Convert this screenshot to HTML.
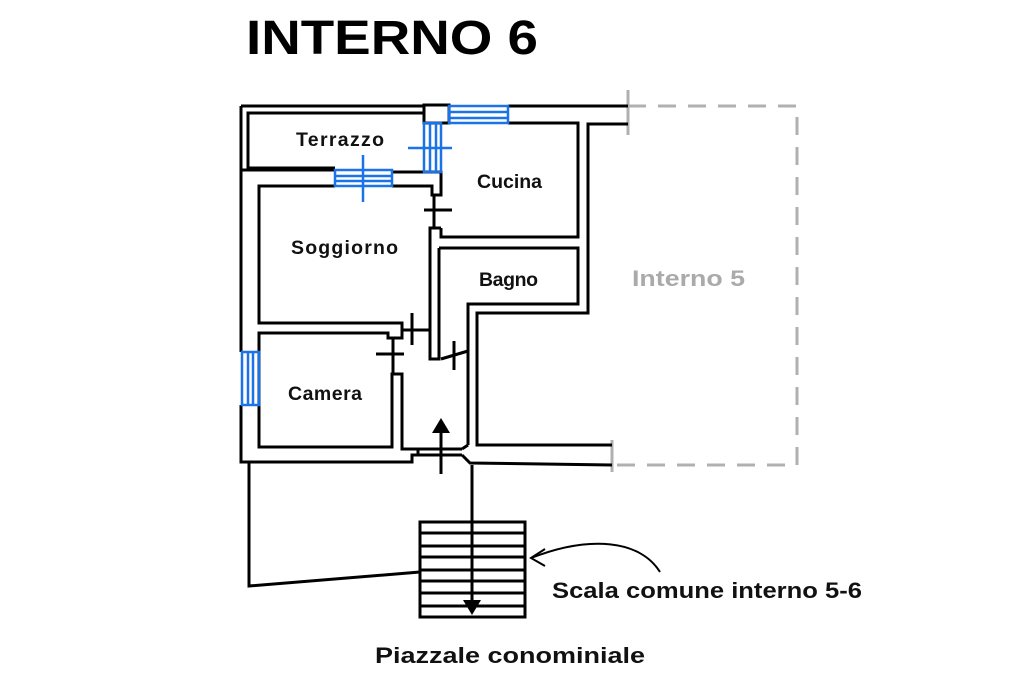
<!DOCTYPE html>
<html><head><meta charset="utf-8"><style>
html,body{margin:0;padding:0;background:#fff;}
svg{display:block;}
text{font-family:"Liberation Sans",sans-serif;}
</style></head><body>
<svg width="1024" height="682" viewBox="0 0 1024 682" xmlns="http://www.w3.org/2000/svg">
<text x="246" y="54" font-size="48" font-weight="bold" textLength="292" lengthAdjust="spacingAndGlyphs" fill="#000">INTERNO 6</text>

<g stroke="#b0b0b0" stroke-width="3" fill="none">
<polyline points="628,106 797,106 797,465 612,465" stroke-dasharray="18,12"/>
<line x1="628" y1="90" x2="628" y2="135"/>
<line x1="612" y1="440" x2="612" y2="472"/>
</g>

<g stroke="#000" stroke-width="3" fill="none" stroke-linejoin="miter">
<line x1="241" y1="106" x2="424" y2="106"/>
<line x1="508" y1="106" x2="628" y2="106"/>
<rect x="424" y="105" width="25" height="18" fill="none"/>
<polyline points="424,113 248,113 248,168 335,168"/>
<polyline points="241,106 241,170 335,170"/>
<polyline points="508,123 578,123 578,237 441,237 441,228"/>
<polyline points="628,124 588,124 588,313 477,313 477,445 612,445"/>
<polyline points="439,248 578,248 578,304 468,304 468,445"/>
<polyline points="439,248 439,359 430,359 430,228 441,228"/>
<polyline points="392,172 441,172 441,195 432,195 432,186 392,186"/>
<polyline points="335,186 259,186 259,323 402,323 402,338 388,338 388,333 259,333 259,447 392,447 392,374 402,374 402,449 418,449"/>
<polyline points="241,170 241,352"/>
<polyline points="241,405 241,462 412,462 412,455 418,455"/>
<line x1="418" y1="449" x2="418" y2="455"/>
<line x1="418" y1="449" x2="462" y2="449"/>
<line x1="418" y1="455" x2="462" y2="455"/>
<polyline points="462,449 468,445"/>
<polyline points="462,455 470,463 612,465"/>
<line x1="434" y1="195" x2="434" y2="228"/>
<line x1="424" y1="210" x2="452" y2="210"/>
<line x1="402" y1="330" x2="430" y2="330"/>
<line x1="412" y1="313" x2="412" y2="345"/>
<line x1="393" y1="338" x2="393" y2="374"/>
<line x1="376" y1="354" x2="404" y2="354"/>
<line x1="441" y1="359" x2="468" y2="351"/>
<line x1="454" y1="341" x2="454" y2="370"/>
<line x1="441" y1="430" x2="441" y2="474"/>
<polyline points="249,462 249,586 420,572"/>
<line x1="472" y1="465" x2="472" y2="602"/>
<rect x="420" y="522" width="105" height="95"/>
<line x1="420" y1="533" x2="525" y2="533"/>
<line x1="420" y1="546" x2="525" y2="546"/>
<line x1="420" y1="557" x2="525" y2="557"/>
<line x1="420" y1="570" x2="525" y2="570"/>
<line x1="420" y1="581" x2="525" y2="581"/>
<line x1="420" y1="593" x2="525" y2="593"/>
<line x1="420" y1="606" x2="525" y2="606"/>
</g>
<polygon points="441,418 432,433 450,433" fill="#000"/>
<polygon points="463,600 481,600 472,615" fill="#000"/>
<g stroke="#000" stroke-width="2" fill="none">
<path d="M660,572 C640,540 590,535 531,558"/>
<polyline points="545,549 531,558 545,566"/>
</g>

<g stroke="#1a73e8" stroke-width="2.5" fill="none">
<rect x="449" y="106" width="59" height="17"/>
<line x1="449" y1="112" x2="508" y2="112"/>
<line x1="449" y1="118" x2="508" y2="118"/>
<rect x="424" y="123" width="17" height="49"/>
<line x1="430" y1="123" x2="430" y2="172"/>
<line x1="436" y1="123" x2="436" y2="172"/>
<line x1="408" y1="148" x2="452" y2="148"/>
<rect x="335" y="170" width="57" height="16"/>
<line x1="335" y1="176" x2="392" y2="176"/>
<line x1="335" y1="181" x2="392" y2="181"/>
<line x1="363" y1="155" x2="363" y2="202"/>
<rect x="242" y="352" width="17" height="53"/>
<line x1="248" y1="352" x2="248" y2="405"/>
<line x1="253" y1="352" x2="253" y2="405"/>
</g>

<g font-size="19.5" fill="#111" font-weight="bold" lengthAdjust="spacingAndGlyphs">
<text x="296" y="146" textLength="88">Terrazzo</text>
<text x="477" y="188" textLength="65">Cucina</text>
<text x="291" y="254" textLength="107">Soggiorno</text>
<text x="479" y="286" textLength="59">Bagno</text>
<text x="288" y="400" textLength="74">Camera</text>
</g>
<text x="632" y="286" font-size="22" font-weight="bold" fill="#aaa" textLength="113" lengthAdjust="spacingAndGlyphs">Interno 5</text>
<text x="552" y="598" font-size="22" font-weight="bold" fill="#111" textLength="310" lengthAdjust="spacingAndGlyphs">Scala comune interno 5-6</text>
<text x="375" y="663" font-size="22" font-weight="bold" fill="#111" textLength="270" lengthAdjust="spacingAndGlyphs">Piazzale conominiale</text>
</svg>
</body></html>
